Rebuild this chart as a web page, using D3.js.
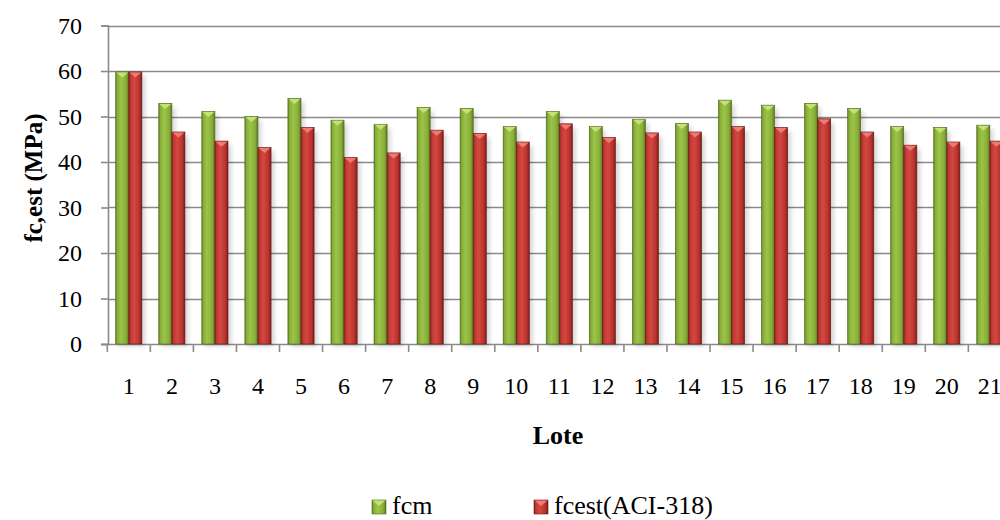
<!DOCTYPE html>
<html>
<head>
<meta charset="utf-8">
<script src="https://cdn.jsdelivr.net/npm/d3@7"></script>
<style>
  html, body { margin: 0; padding: 0; background: #fff; }
  svg { display: block; font-family: "Liberation Serif", "Times New Roman", serif; }
</style>
</head>
<body>
<svg id="chart" width="1000" height="520"></svg>
<script>
// Concrete strength per batch (Lote)
const lotes = ["1","2","3","4","5","6","7","8","9","10","11","12","13","14","15","16","17","18","19","20","21"];
const fcm = [59.8, 52.9, 51.1, 50.0, 54.0, 49.2, 48.3, 52.0, 51.8, 47.8, 51.1, 47.8, 49.4, 48.5, 53.6, 52.5, 52.9, 51.8, 47.8, 47.6, 48.1];
const fcest = [59.8, 46.6, 44.6, 43.2, 47.6, 41.0, 42.0, 47.0, 46.3, 44.4, 48.4, 45.4, 46.4, 46.6, 47.8, 47.6, 49.5, 46.6, 43.7, 44.4, 44.6];
const seriesNames = ["fcm", "fcest(ACI-318)"];
const yTicks = [0, 10, 20, 30, 40, 50, 60, 70];

const svg = d3.select("#chart");
const defs = svg.append("defs");

// cylinder-like horizontal shading for each series
const palettes = [
  { id: "gGreen", stops: [["0%", "#5f7d22"], ["12%", "#86ad35"], ["40%", "#9cc44a"], ["80%", "#87ad36"], ["100%", "#5a7520"]], bevel: "#c9e67a", dark: "#4f6b1c" },
  { id: "gRed", stops: [["0%", "#8a2321"], ["15%", "#c13a35"], ["42%", "#d5473f"], ["80%", "#b8332e"], ["100%", "#7a1d1a"]], bevel: "#f0837a", dark: "#6d1a17" }
];
palettes.forEach(p => {
  const g = defs.append("linearGradient").attr("id", p.id).attr("x1", "0").attr("x2", "1").attr("y1", "0").attr("y2", "0");
  p.stops.forEach(s => g.append("stop").attr("offset", s[0]).attr("stop-color", s[1]));
});
const shadow = defs.append("filter").attr("id", "soft").attr("x", "-50%").attr("y", "-10%").attr("width", "200%").attr("height", "120%");
shadow.append("feGaussianBlur").attr("stdDeviation", 2.5);

const x0 = d3.scaleBand().domain(lotes).range([107.3, 1011.4]).paddingInner(0).paddingOuter(0);
const x1 = d3.scaleBand().domain(seriesNames).range([8.4, 34.6]);
const y = d3.scaleLinear().domain([0, 70]).range([344, 25.5]);

// gridlines
svg.append("g").selectAll("line").data(yTicks.filter(d => d > 0)).join("line")
  .attr("x1", 108).attr("x2", 1000)
  .attr("y1", d => Math.round(y(d)) + 0.5).attr("y2", d => Math.round(y(d)) + 0.5)
  .attr("stroke", "#8a8a8a").attr("stroke-width", 1.6);

// y axis
const yAxis = svg.append("g").attr("transform", "translate(108,0)")
  .call(d3.axisLeft(y).tickValues(yTicks).tickSize(7).tickPadding(19));
yAxis.select(".domain").attr("stroke", "#8a8a8a").attr("stroke-width", 1.6);
yAxis.selectAll(".tick line").attr("stroke", "#8a8a8a").attr("stroke-width", 1.6);
yAxis.selectAll(".tick text").attr("font-size", 24).attr("fill", "#000")
  .attr("font-family", "Liberation Serif, Times New Roman, serif");

// x axis with ticks at category boundaries
const xAxis = svg.append("g").attr("transform", "translate(0,344)");
xAxis.append("line").attr("x1", 101).attr("x2", 1000).attr("y1", 0.5).attr("y2", 0.5)
  .attr("stroke", "#8a8a8a").attr("stroke-width", 1.6);
const bounds = lotes.map(d => x0(d)).concat([x0(lotes[lotes.length - 1]) + x0.bandwidth()]);
xAxis.selectAll("line.tk").data(bounds).join("line").attr("class", "tk")
  .attr("x1", d => d).attr("x2", d => d).attr("y1", 0).attr("y2", 8)
  .attr("stroke", "#8a8a8a").attr("stroke-width", 1.6);
xAxis.selectAll("text").data(lotes).join("text")
  .attr("x", d => x0(d) + x0.bandwidth() / 2).attr("y", 50)
  .attr("text-anchor", "middle").attr("font-size", 24).attr("fill", "#000").text(d => d);

// bars
const rows = lotes.map((l, i) => ({ lote: l, vals: [fcm[i], fcest[i]] }));
const bw = x1.bandwidth();
const groups = svg.append("g").selectAll("g").data(rows).join("g")
  .attr("transform", d => `translate(${x0(d.lote)},0)`);

// soft shadows behind bars
groups.selectAll("rect.sh").data(d => d.vals.map((v, k) => ({ v, k }))).join("rect").attr("class", "sh")
  .attr("x", d => x1(seriesNames[d.k]) + 3).attr("y", d => y(d.v) + 4)
  .attr("width", bw).attr("height", d => y(0) - y(d.v) - 2)
  .attr("fill", "#000").attr("opacity", 0.18).attr("filter", "url(#soft)");

groups.selectAll("rect.bar").data(d => d.vals.map((v, k) => ({ v, k }))).join("rect").attr("class", "bar")
  .attr("x", d => x1(seriesNames[d.k])).attr("y", d => y(d.v))
  .attr("width", bw).attr("height", d => y(0) - y(d.v))
  .attr("fill", d => `url(#${palettes[d.k].id})`)
  .attr("stroke", d => palettes[d.k].dark).attr("stroke-width", 0.6);

// bevelled top facet
groups.selectAll("path.bev").data(d => d.vals.map((v, k) => ({ v, k }))).join("path").attr("class", "bev")
  .attr("d", d => {
    const xl = x1(seriesNames[d.k]) + 0.6, xr = xl + bw - 1.2, t = y(d.v) + 0.6;
    return `M${xl},${t}L${xr},${t}L${(xl + xr) / 2},${t + 5}Z`;
  })
  .attr("fill", d => palettes[d.k].bevel).attr("opacity", 0.9);

// axis titles
svg.append("text").attr("transform", "translate(42,178) rotate(-90)")
  .attr("text-anchor", "middle").attr("font-size", 25).attr("font-weight", "bold").text("fc,est (MPa)");
svg.append("text").attr("x", 558).attr("y", 444)
  .attr("text-anchor", "middle").attr("font-size", 26).attr("font-weight", "bold").text("Lote");

// legend
const legendX = [372, 534];
const leg = svg.append("g").selectAll("g").data(seriesNames).join("g")
  .attr("transform", (d, i) => `translate(${legendX[i]},500)`);
leg.append("rect").attr("width", 14).attr("height", 14)
  .attr("fill", (d, i) => `url(#${palettes[i].id})`).attr("stroke", (d, i) => palettes[i].dark).attr("stroke-width", 0.6);
leg.append("path").attr("d", "M0.5,0.5L13.5,0.5L7,6Z").attr("fill", (d, i) => palettes[i].bevel).attr("opacity", 0.9);
leg.append("text").attr("x", 20).attr("y", 14).attr("font-size", 26).attr("fill", "#000").text(d => d);
</script>
</body>
</html>
